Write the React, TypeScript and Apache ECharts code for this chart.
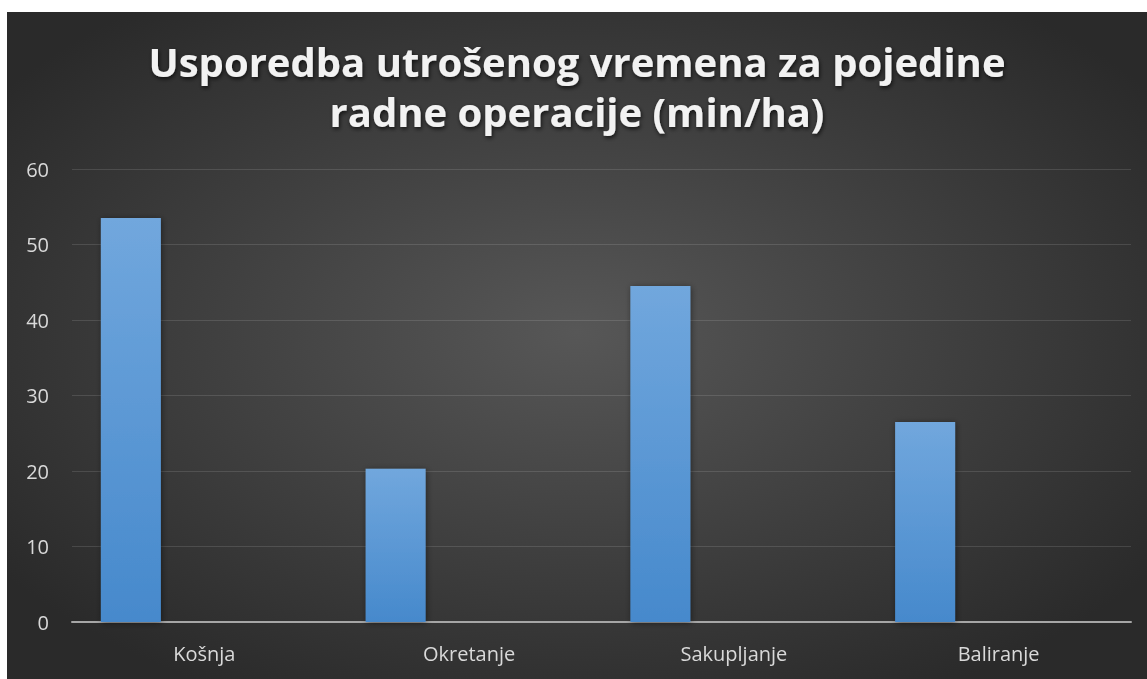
import React, { useEffect, useRef } from "react";
import * as echarts from "echarts";

const categories = ["Košnja", "Okretanje", "Sakupljanje", "Baliranje"];
const values = [53.5, 20.3, 44.5, 26.5];
const emptySeries: (number | null)[] = [null, null, null, null];
const titleText = "Usporedba utrošenog vremena za pojedine\nradne operacije (min/ha)";

const W = 1140;
const H = 667;

export default function App() {
  const ref = useRef<HTMLDivElement>(null);
  useEffect(() => {
    if (!ref.current) return;
    const chart = echarts.init(ref.current, undefined, { renderer: "svg" });
    chart.setOption({
      animation: false,
      graphic: [
        {
          type: "rect",
          z: -100,
          silent: true,
          shape: { x: 0, y: 0, width: W, height: H },
          style: {
            fill: new echarts.graphic.RadialGradient(0.5, 0.48, 0.62, [
              { offset: 0, color: "#575757" },
              { offset: 1, color: "#2a2a2a" },
            ]),
          },
        },
      ],
      title: {
        text: titleText,
        left: "center",
        top: 19,
        textStyle: {
          fontFamily: "Open Sans",
          fontWeight: "bold",
          fontSize: 40,
          lineHeight: 50,
          color: "#f2f2f2",
          textShadowColor: "rgba(0,0,0,0.7)",
          textShadowBlur: 4,
          textShadowOffsetX: 1,
          textShadowOffsetY: 2,
        },
      },
      grid: { left: 65, right: 16, top: 157, bottom: 57, containLabel: false },
      xAxis: {
        type: "category",
        data: categories,
        axisLine: { show: true, lineStyle: { color: "#a6a6a6", width: 2 } },
        axisTick: { show: false },
        axisLabel: {
          color: "#d9d9d9",
          fontFamily: "Open Sans",
          fontSize: 20,
          margin: 21,
        },
      },
      yAxis: {
        type: "value",
        min: 0,
        max: 60,
        interval: 10,
        axisLine: { show: false },
        axisTick: { show: false },
        axisLabel: {
          color: "#d9d9d9",
          fontFamily: "Open Sans",
          fontSize: 20,
          margin: 23,
        },
        splitLine: { lineStyle: { color: "rgba(255,255,255,0.12)", width: 1 } },
      },
      series: [
        {
          type: "bar",
          data: values,
          barWidth: 60,
          barGap: "145%",
          itemStyle: {
            color: new echarts.graphic.LinearGradient(0, 0, 0, 1, [
              { offset: 0, color: "#71a7dd" },
              { offset: 1, color: "#4689cc" },
            ]),
            shadowColor: "rgba(0,0,0,0.45)",
            shadowBlur: 6,
            shadowOffsetX: 1,
            shadowOffsetY: 1,
          },
        },
        {
          type: "bar",
          data: emptySeries,
          barWidth: 60,
        },
      ],
    });
    return () => chart.dispose();
  }, []);
  return (
    <div
      ref={ref}
      style={{ position: "fixed", left: 7, top: 12, width: W, height: H }}
    />
  );
}
